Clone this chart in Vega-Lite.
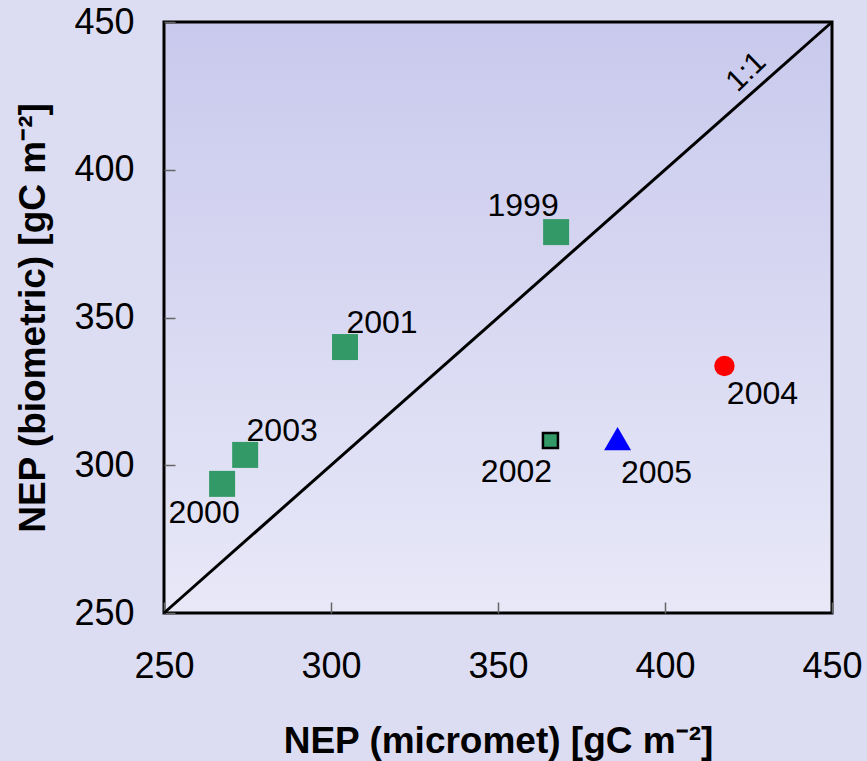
{
  "$schema": "https://vega.github.io/schema/vega-lite/v6.json",
  "width": 668,
  "height": 591,
  "autosize": {"type": "none"},
  "padding": {"left": 164, "top": 22, "right": 35, "bottom": 148},
  "background": "#dcdcf2",
  "config": {
    "font": "Liberation Sans",
    "view": {
      "stroke": "black",
      "strokeWidth": 3,
      "fill": {"gradient": "linear", "x1": 0, "y1": 0, "x2": 0, "y2": 1,
        "stops": [{"offset": 0, "color": "#c9c9ed"}, {"offset": 1, "color": "#e8e8f8"}]}
    }
  },
  "datasets": {
    "points": [
      {"year": "1999", "micromet": 367.4, "biometric": 378.9},
      {"year": "2000", "micromet": 267.4, "biometric": 293.7},
      {"year": "2001", "micromet": 304.2, "biometric": 340.0},
      {"year": "2002", "micromet": 365.7, "biometric": 308.4},
      {"year": "2003", "micromet": 274.3, "biometric": 303.5},
      {"year": "2004", "micromet": 417.8, "biometric": 333.6},
      {"year": "2005", "micromet": 385.8, "biometric": 309.0}
    ],
    "diag": [
      {"micromet": 250, "biometric": 250},
      {"micromet": 450, "biometric": 450}
    ],
    "note": [
      {"micromet": 424.3, "biometric": 433.1, "label": "1:1"}
    ]
  },
  "encoding": {
    "x": {
      "field": "micromet", "type": "quantitative",
      "scale": {"domain": [250, 450], "nice": false, "zero": false},
      "axis": {
        "title": "NEP (micromet) [gC m⁻²]",
        "values": [250, 300, 350, 400, 450],
        "grid": false, "domain": false,
        "tickSize": -11, "tickColor": "#666666", "tickWidth": 1.5,
        "labelFontSize": 36, "labelColor": "black", "labelPadding": 47,
        "labelFlush": false, "labelOverlap": false, "labelBound": false,
        "titleFontSize": 37, "titleFontWeight": "bold", "titleColor": "black",
        "titleX": 334, "titleY": 139, "titleBaseline": "alphabetic", "titleAlign": "center"
      }
    },
    "y": {
      "field": "biometric", "type": "quantitative",
      "scale": {"domain": [250, 450], "nice": false, "zero": false},
      "axis": {
        "title": "NEP (biometric) [gC m⁻²]",
        "values": [250, 300, 350, 400, 450],
        "grid": false, "domain": false,
        "tickSize": -11, "tickColor": "#666666", "tickWidth": 1.5,
        "labelFontSize": 36, "labelColor": "black", "labelPadding": 41,
        "labelFlush": false, "labelOverlap": false, "labelBound": false,
        "titleFontSize": 37, "titleFontWeight": "bold", "titleColor": "black",
        "titleX": -120, "titleY": 295.5, "titleAngle": -90,
        "titleBaseline": "alphabetic", "titleAlign": "center"
      }
    }
  },
  "layer": [
    {"data": {"name": "diag"}, "mark": {"type": "line", "color": "black", "strokeWidth": 3}},
    {"data": {"name": "note"}, "mark": {"type": "text", "fontSize": 30, "angle": 316, "align": "center", "baseline": "middle", "color": "black"},
     "encoding": {"text": {"field": "label"}}},
    {"data": {"name": "points"}, "transform": [{"filter": {"field": "year", "oneOf": ["1999", "2000", "2001", "2003"]}}],
     "mark": {"type": "point", "shape": "square", "filled": true, "size": 676, "color": "#339966", "opacity": 1}},
    {"data": {"name": "points"}, "transform": [{"filter": {"field": "year", "equal": "2002"}}],
     "mark": {"type": "point", "shape": "square", "filled": true, "size": 225, "fill": "#339966", "stroke": "black", "strokeWidth": 2.5, "opacity": 1}},
    {"data": {"name": "points"}, "transform": [{"filter": {"field": "year", "equal": "2004"}}],
     "mark": {"type": "point", "shape": "circle", "filled": true, "size": 415, "color": "#ff0000", "opacity": 1}},
    {"data": {"name": "points"}, "transform": [{"filter": {"field": "year", "equal": "2005"}}],
     "mark": {"type": "point", "shape": "triangle-up", "filled": true, "size": 729, "color": "#0000ff", "opacity": 1}},
    {"data": {"name": "points"}, "transform": [{"filter": {"field": "year", "equal": "1999"}}],
     "mark": {"type": "text", "fontSize": 32, "align": "center", "baseline": "alphabetic", "dx": -33, "dy": -16, "color": "black"},
     "encoding": {"text": {"field": "year"}}},
    {"data": {"name": "points"}, "transform": [{"filter": {"field": "year", "oneOf": ["2001", "2003"]}}],
     "mark": {"type": "text", "fontSize": 32, "align": "center", "baseline": "alphabetic", "dx": 37, "dy": -14, "color": "black"},
     "encoding": {"text": {"field": "year"}}},
    {"data": {"name": "points"}, "transform": [{"filter": {"field": "year", "equal": "2000"}}],
     "mark": {"type": "text", "fontSize": 32, "align": "center", "baseline": "alphabetic", "dx": -18, "dy": 39, "color": "black"},
     "encoding": {"text": {"field": "year"}}},
    {"data": {"name": "points"}, "transform": [{"filter": {"field": "year", "equal": "2002"}}],
     "mark": {"type": "text", "fontSize": 32, "align": "center", "baseline": "alphabetic", "dx": -34, "dy": 42, "color": "black"},
     "encoding": {"text": {"field": "year"}}},
    {"data": {"name": "points"}, "transform": [{"filter": {"field": "year", "equal": "2005"}}],
     "mark": {"type": "text", "fontSize": 32, "align": "center", "baseline": "alphabetic", "dx": 39, "dy": 44, "color": "black"},
     "encoding": {"text": {"field": "year"}}},
    {"data": {"name": "points"}, "transform": [{"filter": {"field": "year", "equal": "2004"}}],
     "mark": {"type": "text", "fontSize": 32, "align": "center", "baseline": "alphabetic", "dx": 38, "dy": 38, "color": "black"},
     "encoding": {"text": {"field": "year"}}}
  ]
}
